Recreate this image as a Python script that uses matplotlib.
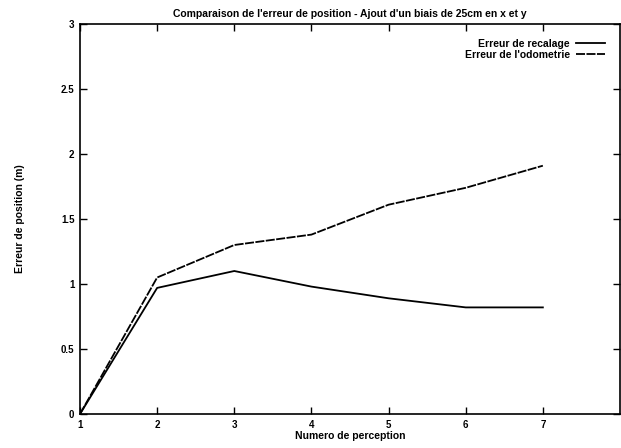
import matplotlib
matplotlib.use("Agg")
import matplotlib.pyplot as plt

# Perception index and position errors (m)
perceptions = [1, 2, 3, 4, 5, 6, 7]
erreur_recalage = [0.0, 0.97, 1.10, 0.98, 0.89, 0.82, 0.82]
erreur_odometrie = [0.0, 1.05, 1.30, 1.38, 1.61, 1.74, 1.91]

x_ticks = [1, 2, 3, 4, 5, 6, 7]
y_ticks = [0, 0.5, 1, 1.5, 2, 2.5, 3]
y_tick_labels = ["0", "0.5", "1", "1.5", "2", "2.5", "3"]

plt.rcParams["font.family"] = ["Liberation Sans", "DejaVu Sans"]
plt.rcParams["font.weight"] = "bold"

fig = plt.figure(figsize=(6.21, 4.48), dpi=100)
ax = fig.add_axes([80 / 621, 34 / 448, 540 / 621, 390 / 448])

ax.plot(perceptions, erreur_recalage, color="black", lw=1.3,
        label="Erreur de recalage")
ax.plot(perceptions, erreur_odometrie, color="black", lw=1.3,
        linestyle=(0, (5, 0.8)), label="Erreur de l'odometrie")

ax.set_xlim(1, 8)
ax.set_ylim(0, 3)
ax.set_xticks(x_ticks)
ax.set_yticks(y_ticks)
ax.set_yticklabels(y_tick_labels)
ax.tick_params(direction="in", top=True, right=True, length=5, width=1,
               labelsize=7, pad=4)
for s in ax.spines.values():
    s.set_linewidth(1.2)

ax.set_title("Comparaison de l'erreur de position - Ajout d'un biais de 25cm en x et y",
             fontsize=7.5, fontweight="bold", pad=5)
ax.set_xlabel("Numero de perception", fontsize=7.5, fontweight="bold", labelpad=1)
ax.set_ylabel("Erreur de position (m)", fontsize=7.5, fontweight="bold", labelpad=26)

leg = ax.legend(loc="upper right", frameon=False, markerfirst=False,
                fontsize=7.5, handlelength=2.8, handletextpad=0.6,
                labelspacing=0.15, borderaxespad=1.0)
for t in leg.get_texts():
    t.set_fontweight("bold")

fig.savefig("out.png", dpi=100)
